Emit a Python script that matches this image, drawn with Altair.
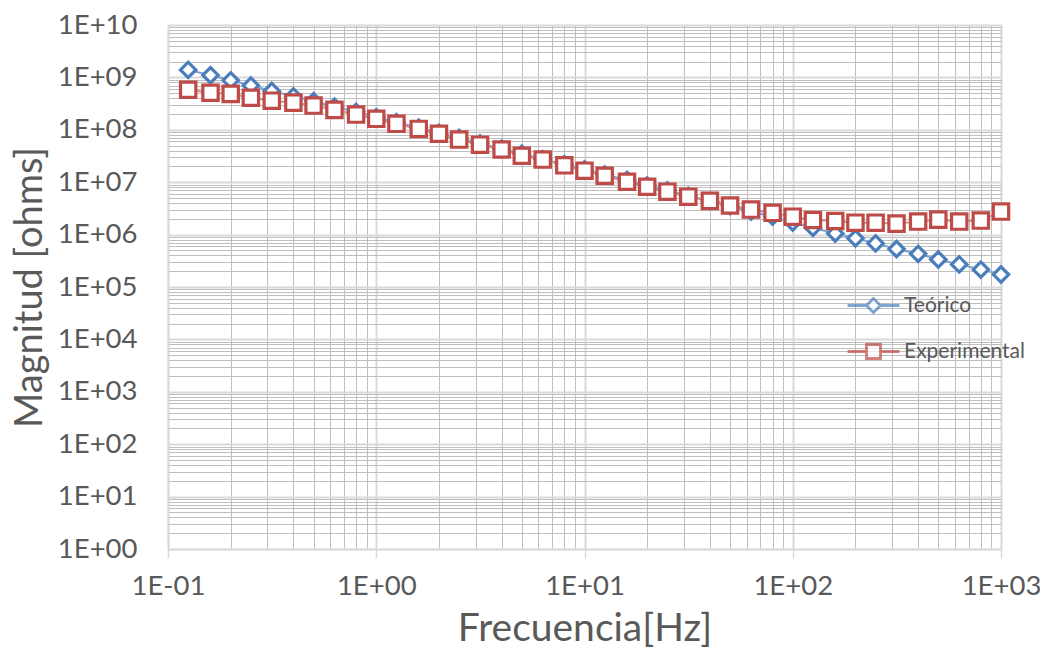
import altair as alt
import pandas as pd

freqs = [0.125, 0.16, 0.2, 0.25, 0.315, 0.4, 0.5, 0.63, 0.8,
         1, 1.25, 1.6, 2, 2.5, 3.15, 4, 5, 6.3, 8,
         10, 12.5, 16, 20, 25, 31.5, 40, 50, 63, 80,
         100, 125, 160, 200, 250, 315, 400, 500, 630, 800, 1000]

teorico = [1.39e9, 1.1e9, 8.8e8, 7.0e8, 5.5e8, 4.35e8, 3.5e8, 2.75e8, 2.2e8,
           1.75e8, 1.4e8, 1.1e8, 8.7e7, 7.0e7, 5.5e7, 4.35e7, 3.5e7, 2.75e7, 2.2e7,
           1.75e7, 1.4e7, 1.1e7, 8.7e6, 7.0e6, 5.5e6, 4.35e6, 3.5e6, 2.75e6, 2.2e6,
           1.7e6, 1.35e6, 1.05e6, 8.5e5, 6.8e5, 5.3e5, 4.3e5, 3.35e5, 2.7e5, 2.15e5, 1.73e5]

experimental = [5.8e8, 5.1e8, 4.85e8, 4.1e8, 3.6e8, 3.3e8, 2.9e8, 2.4e8, 1.95e8,
                1.62e8, 1.3e8, 1.04e8, 8.4e7, 6.5e7, 5.2e7, 4.2e7, 3.2e7, 2.7e7, 2.1e7,
                1.66e7, 1.33e7, 1.02e7, 8.2e6, 6.6e6, 5.3e6, 4.4e6, 3.6e6, 3.0e6, 2.6e6,
                2.2e6, 1.9e6, 1.82e6, 1.69e6, 1.69e6, 1.62e6, 1.77e6, 1.93e6, 1.77e6, 1.85e6, 2.75e6]

series_names = ["Teórico", "Experimental"]

x_ticks = [m * 10.0 ** e for e in range(-1, 3) for m in range(1, 10)] + [1000.0]
y_ticks = [m * 10.0 ** e for e in range(0, 10) for m in range(1, 10)] + [1e10]

rows = []
for f, t, ex in zip(freqs, teorico, experimental):
    rows.append({"freq": f, "value": t, "series": series_names[0]})
    rows.append({"freq": f, "value": ex, "series": series_names[1]})
df = pd.DataFrame(rows)

FONT = "Lato"
TXT = "#595959"
L = "(log(datum.value)/LN10)"
DEC = f"abs({L} - round({L})) < 1e-6"
LABEL = (f"{DEC} ? ('1E' + (round({L}) < 0 ? '-' : '+') + "
         f"(abs(round({L})) < 10 ? '0' : '') + abs(round({L}))) : ''")

def make_axis(values, title, title_size, title_pad, label_pad, ticks):
    if ticks:
        extra = dict(
            ticks=True,
            tickColor={"condition": {"test": DEC, "value": "#d9d9d9"}, "value": "transparent"},
            tickSize=9, tickWidth=1.5,
        )
    else:
        extra = dict(ticks=False, tickSize=0)
    return alt.Axis(
        values=values,
        labelExpr=LABEL,
        title=title,
        grid=True,
        gridColor={"condition": {"test": DEC, "value": "#d9d9d9"}, "value": "#bfbfbf"},
        gridWidth={"condition": {"test": DEC, "value": 2}, "value": 1},
        domainColor="#d9d9d9",
        domainWidth=1.5,
        labelFont=FONT,
        labelFontSize=27.5,
        labelColor=TXT,
        labelPadding=label_pad,
        labelFlush=False,
        labelOverlap=False,
        titleFont=FONT,
        titleFontSize=title_size,
        titleFontWeight="normal",
        titleColor=TXT,
        titlePadding=title_pad,
        **extra,
    )

x_enc = alt.X("freq:Q",
              scale=alt.Scale(type="log", domain=[0.1, 1000], nice=False),
              axis=make_axis(x_ticks, "Frecuencia[Hz]", 39, 10, 14, True))
y_enc = alt.Y("value:Q",
              scale=alt.Scale(type="log", domain=[1, 1e10], nice=False),
              axis=make_axis(y_ticks, "Magnitud [ohms]", 38, 8, 31, False))

base = alt.Chart(df)

lines = base.mark_line(strokeWidth=2).encode(
    x=x_enc, y=y_enc,
    color=alt.Color("series:N",
                    scale=alt.Scale(domain=series_names, range=["#7ea3d1", "#d48e8c"]),
                    legend=None),
)

points = base.mark_point(filled=True, fill="white", strokeWidth=3.2, size=235, opacity=1).encode(
    x=x_enc, y=y_enc,
    stroke=alt.Stroke("series:N",
                      scale=alt.Scale(domain=series_names, range=["#4a7ebb", "#be4b48"]),
                      legend=None),
    shape=alt.Shape("series:N",
                    scale=alt.Scale(domain=series_names, range=["diamond", "square"]),
                    legend=None),
)

leg_paths = [
    "M-3.7,0L-1,0M1,0L3.7,0M0,-1L1,0L0,1L-1,0Z",
    "M-3.7,0L-1,0M1,0L3.7,0M-1,-1L1,-1L1,1L-1,1Z",
]
leg = alt.Legend(
    title=None, orient="none", legendX=695, legendY=270,
    labelFont=FONT, labelFontSize=21, labelColor=TXT,
    labelOffset=20, rowPadding=19, padding=0,
    symbolSize=196, symbolStrokeWidth=2.8, symbolFillColor="white",
)
legend_layer = base.mark_point(filled=True, fill="white", strokeWidth=2.8).encode(
    x=x_enc, y=y_enc,
    stroke=alt.Stroke("series:N",
                      scale=alt.Scale(domain=series_names, range=["#4a7ebb", "#be4b48"]),
                      legend=leg),
    shape=alt.Shape("series:N",
                    scale=alt.Scale(domain=series_names, range=leg_paths),
                    legend=leg),
).transform_filter("false")

chart = alt.layer(lines, points, legend_layer).resolve_scale(
    shape="independent", stroke="independent"
).properties(
    width=833, height=524,
    autosize=alt.AutoSizeParams(type="none"),
    padding={"left": 160, "top": 17, "right": 39, "bottom": 100},
).configure_view(stroke=None).configure(background="white")

chart.save("out.html", embed_options={"renderer": "svg", "actions": False})
